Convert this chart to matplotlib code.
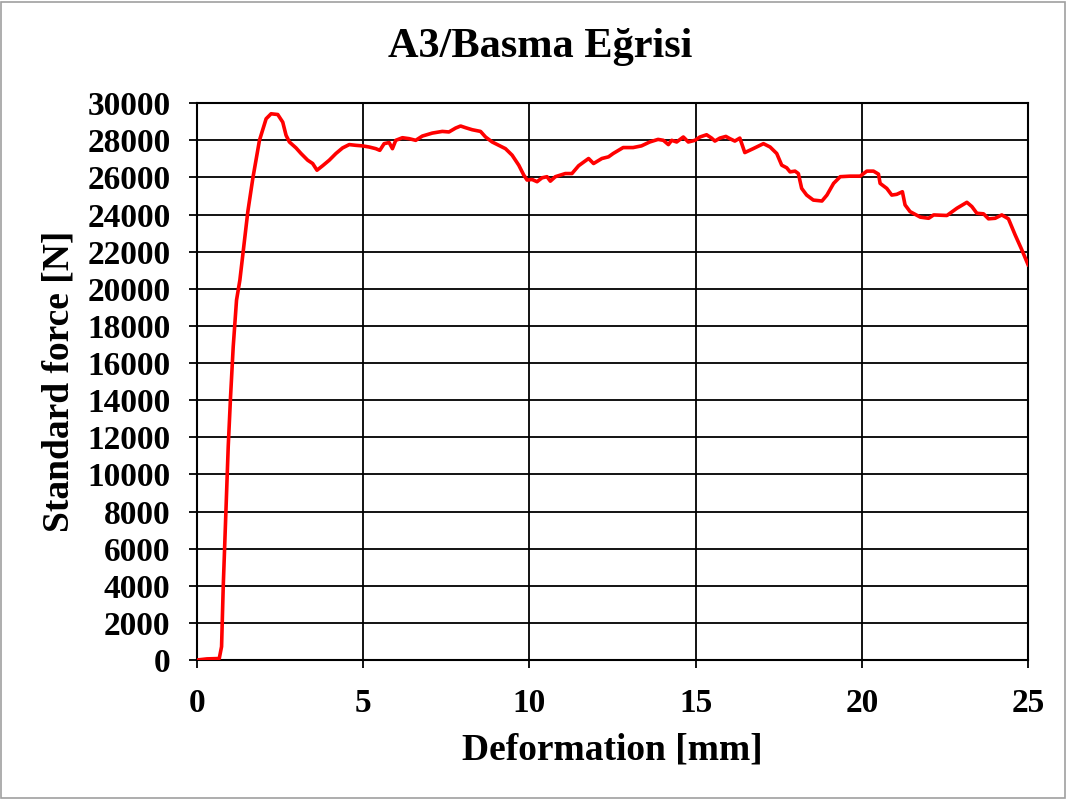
import matplotlib
matplotlib.use("Agg")
import matplotlib.pyplot as plt
from matplotlib.patches import Rectangle

plt.rcParams['font.family'] = ['Liberation Serif', 'DejaVu Serif']
plt.rcParams['font.weight'] = 'bold'

# deformation [mm] and standard force [N]
deformation = [0.00, 0.30, 0.67, 0.74, 0.79, 0.87, 0.94, 1.01, 1.09, 1.19, 1.29,
               1.53, 1.68, 1.88, 2.08, 2.23, 2.43, 2.58, 2.68, 2.78, 2.98,
               3.13, 3.33, 3.48, 3.61, 3.78, 3.98, 4.18, 4.38, 4.58, 4.78,
               4.98, 5.18, 5.38, 5.50, 5.63, 5.78, 5.88, 5.98, 6.18, 6.38,
               6.58, 6.78, 7.08, 7.38, 7.58, 7.78, 7.93, 8.08, 8.28, 8.53,
               8.68, 8.88, 9.08, 9.28, 9.48, 9.68, 9.83, 9.93, 10.08, 10.23,
               10.38, 10.53, 10.63, 10.78, 11.08, 11.28, 11.48, 11.78, 11.93, 12.18,
               12.38, 12.52, 12.82, 13.12, 13.37, 13.62, 13.87, 14.03, 14.18, 14.28,
               14.43, 14.63, 14.78, 14.98, 15.13, 15.33, 15.48, 15.58, 15.73, 15.91,
               16.03, 16.18, 16.33, 16.48, 16.73, 17.04, 17.24, 17.44, 17.59, 17.74,
               17.84, 17.99, 18.09, 18.19, 18.34, 18.54, 18.80, 18.95, 19.15, 19.35,
               19.65, 19.95, 20.15, 20.35, 20.50, 20.55, 20.75, 20.90, 21.05, 21.22,
               21.30, 21.45, 21.76, 22.01, 22.16, 22.56, 22.86, 23.16, 23.31, 23.46,
               23.66, 23.81, 24.01, 24.21, 24.41, 24.61, 24.81, 25.00]
force = [0, 60, 80, 720, 3950, 7900, 11490, 14180, 16870, 19390, 20460,
         24160, 25950, 28000, 29160, 29430, 29390, 28980, 28270, 27910, 27590,
         27290, 26930, 26750, 26390, 26630, 26930, 27290, 27590, 27770, 27730,
         27700, 27640, 27550, 27460, 27820, 27880, 27550, 28000, 28140, 28090,
         28000, 28230, 28390, 28480, 28450, 28660, 28770, 28680, 28570, 28480,
         28180, 27910, 27730, 27550, 27200, 26660, 26130, 25860, 25890, 25770,
         25980, 26040, 25800, 26040, 26210, 26210, 26630, 27020, 26750, 27020,
         27110, 27290, 27610, 27610, 27700, 27910, 28050, 28000, 27770, 28000,
         27910, 28180, 27910, 28000, 28180, 28300, 28120, 27960, 28120, 28210,
         28090, 27960, 28120, 27340, 27550, 27820, 27640, 27290, 26660, 26520,
         26300, 26340, 26210, 25410, 25050, 24780, 24730, 25050, 25680, 26040,
         26070, 26070, 26340, 26340, 26180, 25680, 25410, 25050, 25090, 25230,
         24520, 24160, 23860, 23800, 23980, 23950, 24340, 24660, 24430, 24070,
         24040, 23770, 23800, 23980, 23770, 22910, 22110, 21300]

x_ticks = [0, 5, 10, 15, 20, 25]
y_ticks = list(range(0, 30001, 2000))

fig = plt.figure(figsize=(10.67, 8), dpi=100)
ax = fig.add_axes([0.1846, 0.175, 0.7789, 0.696])

ax.plot(deformation, force, color='#ff0000', linewidth=2.6, zorder=3)

ax.set_xlim(0, 25)
ax.set_ylim(0, 30000)
ax.set_xticks(x_ticks)
ax.set_yticks(y_ticks)
ax.grid(True, color='black', linewidth=1.3)
ax.tick_params(axis='both', direction='out', length=6, width=1.3, labelsize=24)
ax.tick_params(axis='y', pad=13)
ax.tick_params(axis='x', pad=14)
for lbl in ax.get_xticklabels() + ax.get_yticklabels():
    lbl.set_fontweight('bold')
for sp in ax.spines.values():
    sp.set_linewidth(1.5)

ax.set_xlabel('Deformation [mm]', fontsize=27, fontweight='bold', labelpad=10)
ax.set_ylabel('Standard force [N]', fontsize=27, fontweight='bold', labelpad=8)
fig.text(0.506, 0.941, 'A3/Basma Eğrisi', ha='center', va='center', fontsize=30.5, fontweight='bold')

# light gray frame around the whole chart
fig.patches.append(Rectangle((0.001, 0.002), 0.997, 0.996, transform=fig.transFigure,
                             fill=False, edgecolor='#a0a0a0', linewidth=1.2))

fig.savefig('out.png', dpi=100)
